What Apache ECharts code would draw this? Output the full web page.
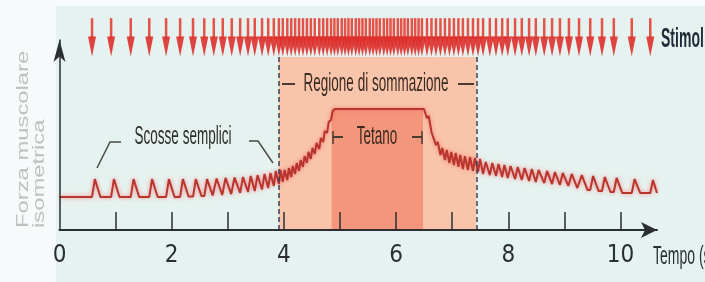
<!DOCTYPE html>
<html>
<head>
<meta charset="utf-8">
<style>
  html, body { margin: 0; padding: 0; background: #f7fafa; }
  #chart { width: 705px; height: 282px; }
</style>
<script src="https://cdn.jsdelivr.net/npm/echarts@6/dist/echarts.min.js"></script>
</head>
<body>
<div id="chart"></div>
<script>
  // tempi degli stimoli (s)
  var stimoli = [
    0.58, 0.92, 1.27, 1.60, 1.90, 2.15, 2.38, 2.58, 2.75, 2.91, 3.07, 3.22, 3.36, 3.48, 3.61, 3.72, 3.82, 3.91,
    3.98, 4.06, 4.13, 4.20, 4.27, 4.34, 4.41, 4.48, 4.55, 4.63, 4.70, 4.77, 4.84,
    4.90, 4.96, 5.03, 5.09, 5.15, 5.21, 5.28, 5.34, 5.40, 5.46, 5.53, 5.59, 5.65,
    5.71, 5.78, 5.84, 5.90, 5.96, 6.03, 6.09, 6.15, 6.21, 6.28, 6.34, 6.40, 6.46,
    6.55, 6.63, 6.71, 6.79, 6.87, 6.95, 7.03, 7.11, 7.19, 7.28, 7.37, 7.46,
    7.55, 7.67, 7.78, 7.89, 7.99, 8.12, 8.24, 8.37, 8.49, 8.64, 8.78, 8.92, 9.08, 9.26, 9.46, 9.67, 9.88, 10.20, 10.53
  ]
  // forza all'istante dello stimolo (minimo) e al picco della scossa
  var forzaMin = [
    17.4, 17.4, 17.4, 17.4, 17.4, 17.4, 17.6, 17.9, 18.2, 18.4, 18.9, 19.5, 20.0, 20.5, 21.3, 22.1, 23.2, 24.2,
    25.3, 26.3, 27.9, 29.5, 31.1, 33.2, 35.3, 37.4, 40.0, 42.6, 46.3, 51.1, 57.9,
    63.7, 63.7, 63.7, 63.7, 63.7, 63.7, 63.7, 63.7, 63.7, 63.7, 63.7, 63.7, 63.7,
    63.7, 63.7, 63.7, 63.7, 63.7, 63.7, 63.7, 63.7, 63.7, 63.7, 63.7, 63.7, 63.7,
    58.9, 51.6, 44.7, 39.5, 36.8, 35.3, 34.2, 33.2, 32.1, 31.6, 31.1, 30.5,
    29.5, 28.9, 28.4, 27.9, 27.4, 26.8, 26.3, 25.8, 25.3, 24.7, 24.2, 23.7, 23.2, 22.1, 21.1, 20.5, 20.0, 19.5, 19.5
  ]
  var forzaMax = [
    26.8, 26.8, 26.8, 26.8, 26.8, 26.8, 26.8, 26.8, 27.1, 27.4, 27.6, 27.9, 28.4, 28.9, 29.5, 30.0, 31.1, 31.6,
    31.6, 32.6, 33.7, 35.3, 36.8, 38.9, 41.1, 43.2, 45.8, 48.4, 52.1, 56.8, 62.1,
    63.7, 63.7, 63.7, 63.7, 63.7, 63.7, 63.7, 63.7, 63.7, 63.7, 63.7, 63.7, 63.7,
    63.7, 63.7, 63.7, 63.7, 63.7, 63.7, 63.7, 63.7, 63.7, 63.7, 63.7, 63.7, 63.7,
    60.0, 52.6, 46.3, 43.2, 42.1, 41.1, 40.5, 39.5, 38.9, 38.4, 37.9, 37.4,
    35.8, 35.3, 34.7, 34.2, 33.7, 33.2, 32.6, 32.1, 31.6, 31.1, 30.5, 30.0, 29.5, 28.9, 28.4, 27.9, 27.4, 26.8, 26.3
  ]
  var forzaInizio = 17.4
  var forzaFine = 19.5
  var tempoMax = 10.65

  // [inizio, fine, altezza]
  var regioneSommazione = [3.91, 7.43, 91]
  var tetano = [4.85, 6.48, 63.7]

  var tickValori = [1, 2, 3, 4, 5, 6, 7, 8, 9, 10]
  var etichetteValori = [0, 2, 4, 6, 8, 10]

  var fontStretto = "'Liberation Sans Narrow', 'DejaVu Sans Condensed', 'Liberation Sans', sans-serif"
  var fontNormale = "'Liberation Sans', 'DejaVu Sans', sans-serif"
  var scritta = '#3b2a22'

  // costruisce la traccia delle scosse a partire dagli stimoli
  function costruisciTraccia() {
    var punti = [[0, forzaInizio]]
    for (var i = 0; i < stimoli.length; i++) {
      var t = stimoli[i]
      var ultimo = i === stimoli.length - 1
      var dopo = ultimo ? tempoMax : stimoli[i + 1]
      var minDopo = ultimo ? forzaFine : forzaMin[i + 1]
      var dt = dopo - t
      punti.push([t, forzaMin[i]])
      punti.push([t + Math.min(0.05, dt * 0.4), forzaMax[i]])
      if (dt > 0.15) punti.push([t + 0.15, minDopo])
    }
    punti.push([tempoMax, forzaFine])
    return punti
  }

  function testo(x, y, s, font, colore, scala, allinea) {
    return {
      type: 'text', x: x, y: y, z: 50, scaleX: scala,
      style: { text: s, fill: colore, font: font, align: allinea || 'center', verticalAlign: 'middle' }
    }
  }
  function tratto(punti, w) {
    return { type: 'polyline', z: 50, shape: { points: punti }, style: { stroke: '#4a3a33', lineWidth: w || 2 } }
  }

  var chart = echarts.init(document.getElementById('chart'))

  chart.setOption({
    animation: false,
    backgroundColor: '#f7fafa',
    grid: [
      { left: 59.5, right: 48, top: 40, bottom: 52 },
      { left: 59.5, right: 48, top: 15, height: 45 }
    ],
    xAxis: [
      {
        type: 'value',
        gridIndex: 0,
        min: 0,
        max: tempoMax,
        z: 5,
        splitLine: { show: false },
        axisLine: {
          lineStyle: { color: '#2b2f33', width: 2 },
          symbol: ['none', 'arrow'],
          symbolSize: [12, 16]
        },
        axisTick: {
          inside: true,
          length: 18,
          customValues: tickValori,
          lineStyle: { color: '#2b2f33', width: 1.5 }
        },
        axisLabel: {
          customValues: etichetteValori,
          margin: 14,
          color: '#2b2f33',
          fontSize: 24,
          fontFamily: fontStretto
        }
      },
      {
        type: 'value',
        gridIndex: 1,
        min: 0,
        max: tempoMax,
        show: false
      }
    ],
    yAxis: [
      {
        type: 'value',
        gridIndex: 0,
        min: 0,
        max: 100,
        z: 5,
        splitLine: { show: false },
        axisTick: { show: false },
        axisLabel: { show: false },
        axisLine: {
          show: true,
          lineStyle: { color: '#2b2f33', width: 1.5 },
          symbol: ['none', 'arrow'],
          symbolSize: [9, 22]
        }
      },
      {
        type: 'value',
        gridIndex: 1,
        min: 0,
        max: 1,
        show: false
      }
    ],
    series: [
      {
        name: 'Forza',
        type: 'line',
        xAxisIndex: 0,
        yAxisIndex: 0,
        data: costruisciTraccia(),
        showSymbol: false,
        z: 3,
        lineStyle: {
          color: '#b8352e',
          width: 2,
          shadowColor: 'rgba(245, 90, 90, 0.7)',
          shadowBlur: 4
        },
        markArea: {
          silent: true,
          data: [
            [
              { xAxis: regioneSommazione[0], yAxis: 0.4, itemStyle: { color: '#f9c5aa' } },
              { xAxis: regioneSommazione[1], yAxis: regioneSommazione[2] }
            ],
            [
              { xAxis: tetano[0], yAxis: 0.4, itemStyle: { color: '#f4967b' } },
              { xAxis: tetano[1], yAxis: tetano[2] }
            ]
          ]
        },
        markLine: {
          silent: true,
          symbol: 'none',
          label: { show: false },
          lineStyle: { color: '#3d3f5c', width: 1.5, type: [5, 3] },
          data: [
            [{ coord: [regioneSommazione[0], 0] }, { coord: [regioneSommazione[0], regioneSommazione[2]] }],
            [{ coord: [regioneSommazione[1], 0] }, { coord: [regioneSommazione[1], regioneSommazione[2]] }]
          ]
        }
      },
      {
        name: 'Stimoli',
        type: 'custom',
        xAxisIndex: 1,
        yAxisIndex: 1,
        data: stimoli.map(function (t) { return [t] }),
        encode: { x: 0 },
        renderItem: function (params, api) {
          var x = api.coord([api.value(0), 0])[0]
          var yTop = api.coord([0, 0.93])[1]
          var yBase = api.coord([0, 0.52])[1]
          var yTip = api.coord([0, 0.08])[1]
          return {
            type: 'group',
            children: [
              {
                type: 'line',
                shape: { x1: x, y1: yTop, x2: x, y2: yBase + 2 },
                style: { stroke: 'rgba(228, 54, 42, 0.85)', lineWidth: 2.5 }
              },
              {
                type: 'polygon',
                shape: { points: [[x - 4, yBase], [x + 4, yBase], [x, yTip]] },
                style: { fill: 'rgba(222, 48, 44, 0.9)' }
              }
            ]
          }
        }
      }
    ],
    graphic: [
      { type: 'rect', z: -10, shape: { x: 56, y: 6, width: 649, height: 276 }, style: { fill: '#e6f2ef' } },
      {
        type: 'text', x: 23, y: 228, rotation: Math.PI / 2, scaleX: 1.4,
        style: { text: 'Forza muscolare', fill: '#c0c0c0', font: '17px ' + fontNormale, align: 'left', verticalAlign: 'middle' }
      },
      {
        type: 'text', x: 39, y: 228, rotation: Math.PI / 2, scaleX: 1.4,
        style: { text: 'isometrica', fill: '#c0c0c0', font: '17px ' + fontNormale, align: 'left', verticalAlign: 'middle' }
      },
      testo(661, 40, 'Stimoli', 'bold 27px ' + fontNormale, '#1f2b3b', 0.52, 'left'),
      testo(653, 257, 'Tempo (s)', '25px ' + fontNormale, '#2b2f33', 0.56, 'left'),
      testo(376, 84, 'Regione di sommazione', '25px ' + fontNormale, scritta, 0.54),
      tratto([[282, 84], [295, 84]]),
      tratto([[458, 84], [474, 84]]),
      testo(377, 137, 'Tetano', '25px ' + fontNormale, scritta, 0.54),
      tratto([[333, 131], [333, 144]], 1.5),
      tratto([[333, 137], [343, 137]]),
      tratto([[412, 137], [422, 137]]),
      tratto([[422, 131], [422, 144]], 1.5),
      testo(183, 137, 'Scosse semplici', '25px ' + fontNormale, '#2d2d2d', 0.54),
      { type: 'polyline', z: 50, shape: { points: [[97, 168], [110, 142], [121, 142]] }, style: { stroke: '#4a4a4a', lineWidth: 1.5 } },
      { type: 'polyline', z: 50, shape: { points: [[249, 141], [258, 141], [273, 163]] }, style: { stroke: '#4a4a4a', lineWidth: 1.5 } }
    ]
  })
</script>
</body>
</html>
